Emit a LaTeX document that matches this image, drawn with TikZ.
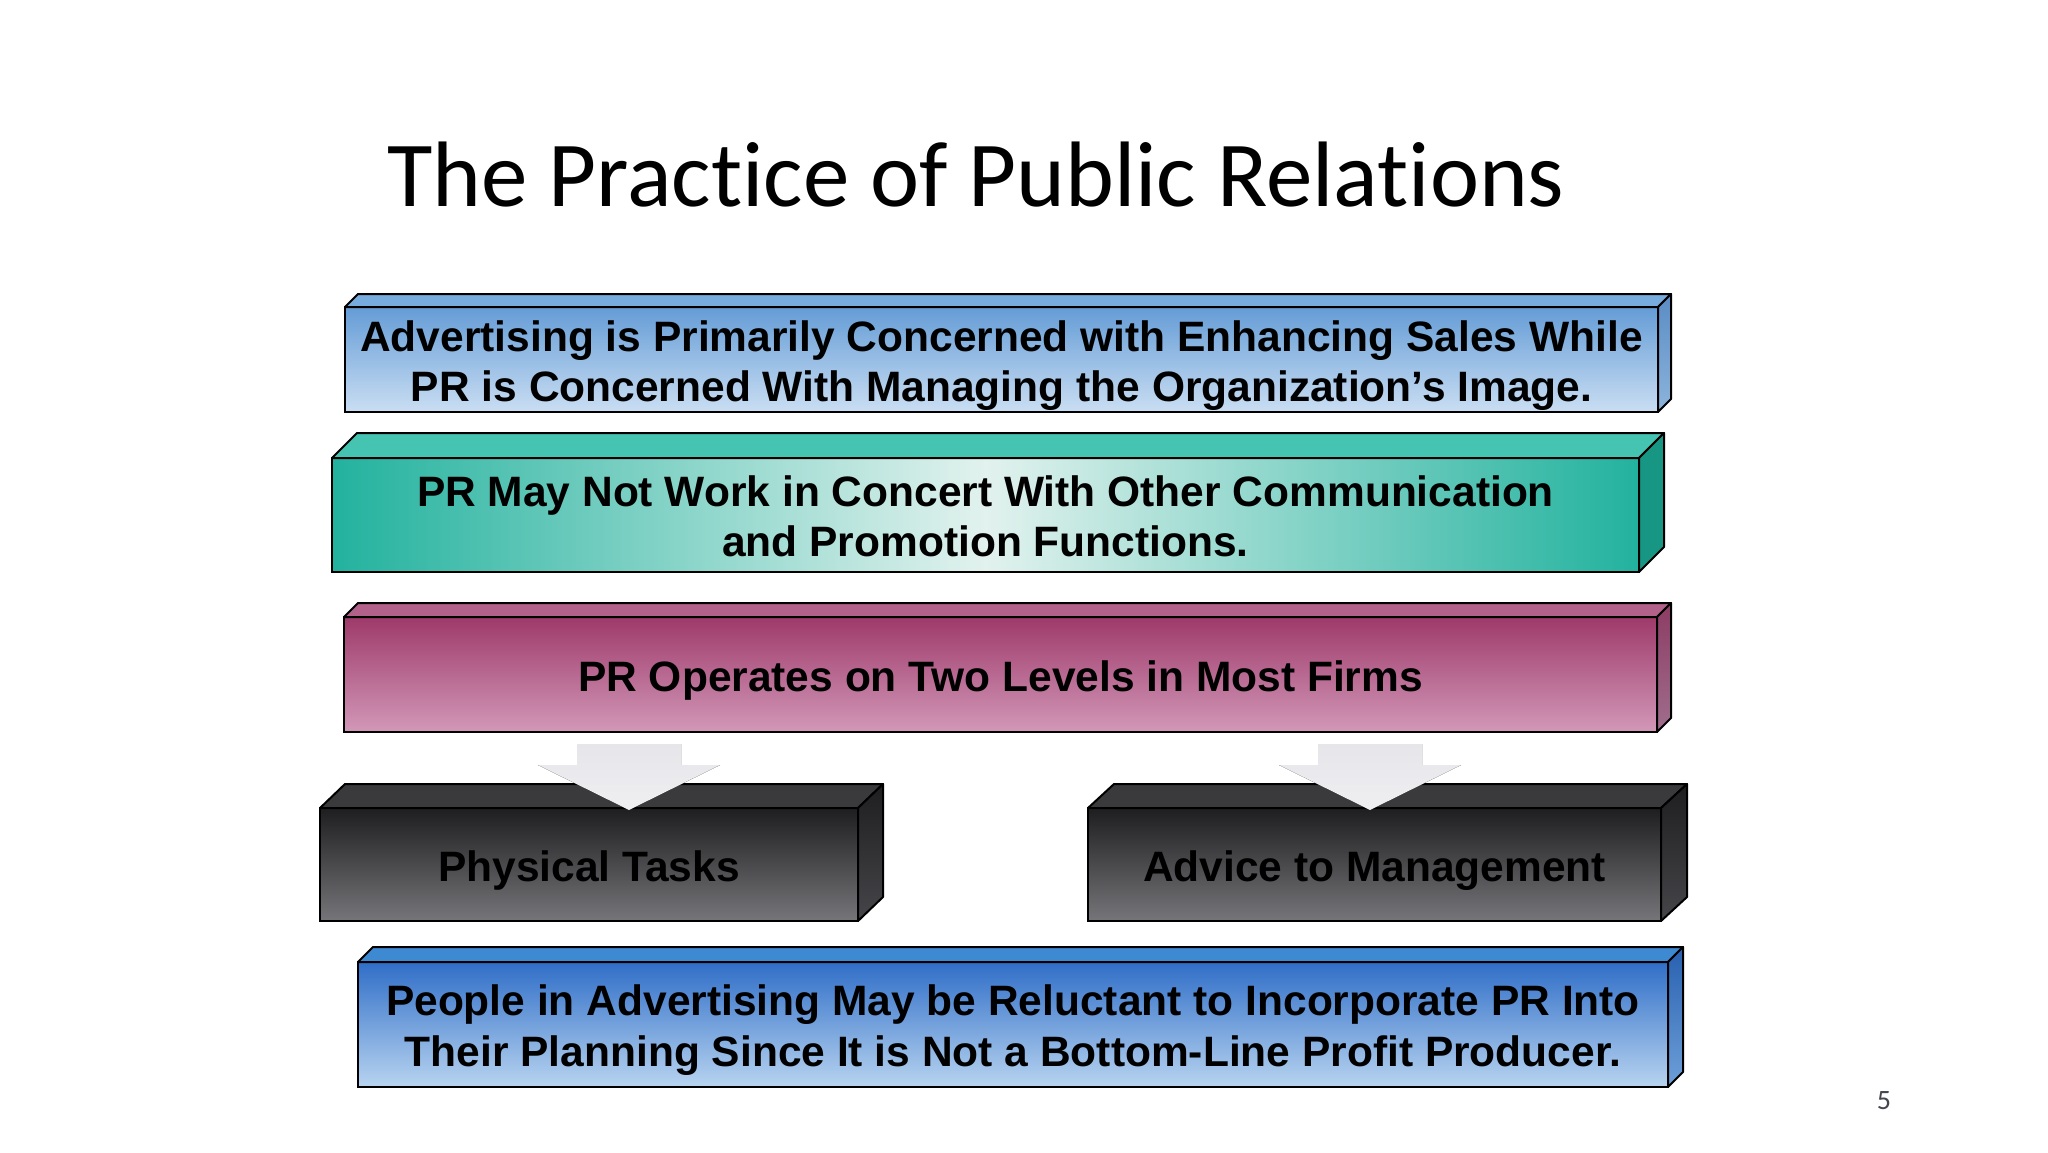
\documentclass[tikz,border=0pt]{standalone}
\usepackage{fontspec}
\setmainfont{Liberation Sans}
\newfontfamily\titlefont[Ligatures={NoCommon}]{Carlito}
\usetikzlibrary{calc,backgrounds}
\definecolor{shadowc}{HTML}{E4E4E7}
\definecolor{arrowc}{HTML}{E6E6EA}
\definecolor{arrowd}{HTML}{EFEFF2}
\begin{document}
\begin{tikzpicture}[x=1pt,y=-1pt,
  facebox/.style={anchor=north west, inner sep=0pt, outer sep=0pt, draw=black, line width=2pt},
  label/.style={inner sep=0pt, align=center, font=\fontsize{42.5}{50}\selectfont\bfseries, text=black, yshift=-6pt},
  face/.style={draw=black, line width=2pt, line join=round},
  shadowbox/.style={fill=shadowc},
  blockarrow/.style={top color=arrowc, bottom color=arrowd}
]
\useasboundingbox[fill=white] (0,0) rectangle (2048,1152);

% title
\node[font=\titlefont\fontsize{93}{110}\selectfont, anchor=base west, inner sep=0pt] (title) at (387,206) {The Practice of Public Relations};

% box 1
\node[facebox, minimum width=1313pt, minimum height=105pt, top color={rgb,255:red,100;green,156;blue,214}, bottom color={rgb,255:red,202;green,222;blue,243}] (b1) at (345,307) {};
\node[label] (b1t) at (b1.center) {Advertising is Primarily Concerned with Enhancing Sales While\\PR is Concerned With Managing the Organization’s Image.};
\draw[face, fill={rgb,255:red,120;green,172;blue,222}] (b1.north west) -- ++(13,-13) -- ($(b1.north east)+(13,-13)$) -- (b1.north east) -- cycle;
\draw[face, top color={rgb,255:red,90;green,140;blue,196}, bottom color={rgb,255:red,140;green,180;blue,220}] (b1.north east) -- ++(13,-13) -- ($(b1.south east)+(13,-13)$) -- (b1.south east) -- cycle;
\begin{pgfonlayer}{background}
\fill[shadowbox] ($(b1.north west)+(10,-3)$) rectangle ($(b1.south east)+(24,12)$);
\end{pgfonlayer}

% box 2
\node[facebox, minimum width=1307pt, minimum height=114pt, left color={rgb,255:red,34;green,178;blue,158}, right color={rgb,255:red,34;green,178;blue,158}, middle color={rgb,255:red,226;green,242;blue,238}] (b2) at (332,458) {};
\node[label, yshift=5pt] (b2t) at (b2.center) {PR May Not Work in Concert With Other Communication\\and Promotion Functions.};
\draw[face, fill={rgb,255:red,70;green,196;blue,178}] (b2.north west) -- ++(25,-25) -- ($(b2.north east)+(25,-25)$) -- (b2.north east) -- cycle;
\draw[face, fill={rgb,255:red,24;green,150;blue,132}] (b2.north east) -- ++(25,-25) -- ($(b2.south east)+(25,-25)$) -- (b2.south east) -- cycle;
\begin{pgfonlayer}{background}
\fill[shadowbox] ($(b2.north west)+(10,-15)$) rectangle ($(b2.south east)+(36,12)$);
\end{pgfonlayer}

% box 3
\node[facebox, minimum width=1313pt, minimum height=115pt, top color={rgb,255:red,158;green,58;blue,106}, bottom color={rgb,255:red,210;green,152;blue,184}] (b3) at (344,617) {};
\node[label] (b3t) at (b3.center) {PR Operates on Two Levels in Most Firms};
\draw[face, fill={rgb,255:red,178;green,98;blue,138}] (b3.north west) -- ++(14,-14) -- ($(b3.north east)+(14,-14)$) -- (b3.north east) -- cycle;
\draw[face, top color={rgb,255:red,140;green,60;blue,100}, bottom color={rgb,255:red,160;green,110;blue,140}] (b3.north east) -- ++(14,-14) -- ($(b3.south east)+(14,-14)$) -- (b3.south east) -- cycle;
\begin{pgfonlayer}{background}
\fill[shadowbox] ($(b3.north west)+(10,-4)$) rectangle ($(b3.south east)+(25,12)$);
\end{pgfonlayer}

% dark box left
\node[facebox, minimum width=538pt, minimum height=113pt, top color={rgb,255:red,30;green,30;blue,32}, bottom color={rgb,255:red,118;green,118;blue,122}] (d1) at (320,808) {};
\node[label] (d1t) at (d1.center) {Physical Tasks};
\draw[face, fill={rgb,255:red,58;green,58;blue,60}] (d1.north west) -- ++(25,-24) -- ($(d1.north east)+(25,-24)$) -- (d1.north east) -- cycle;
\draw[face, top color={rgb,255:red,30;green,30;blue,32}, bottom color={rgb,255:red,70;green,70;blue,74}] (d1.north east) -- ++(25,-24) -- ($(d1.south east)+(25,-24)$) -- (d1.south east) -- cycle;
\begin{pgfonlayer}{background}
\fill[shadowbox] ($(d1.north west)+(10,-14)$) rectangle ($(d1.south east)+(36,12)$);
\end{pgfonlayer}

% dark box right
\node[facebox, minimum width=573pt, minimum height=113pt, top color={rgb,255:red,30;green,30;blue,32}, bottom color={rgb,255:red,118;green,118;blue,122}] (d2) at (1088,808) {};
\node[label] (d2t) at (d2.center) {Advice to Management};
\draw[face, fill={rgb,255:red,58;green,58;blue,60}] (d2.north west) -- ++(26,-24) -- ($(d2.north east)+(26,-24)$) -- (d2.north east) -- cycle;
\draw[face, top color={rgb,255:red,30;green,30;blue,32}, bottom color={rgb,255:red,70;green,70;blue,74}] (d2.north east) -- ++(26,-24) -- ($(d2.south east)+(26,-24)$) -- (d2.south east) -- cycle;
\begin{pgfonlayer}{background}
\fill[shadowbox] ($(d2.north west)+(10,-14)$) rectangle ($(d2.south east)+(37,12)$);
\end{pgfonlayer}

% block arrows from b3 to d1/d2
\coordinate (ta) at (629,810);
\coordinate (tb) at (1370,810);
\fill[blockarrow] (ta) -- ++(-91,-45) -- ++(39,0) -- ++(0,-21) -- ++(104,0) -- ++(0,21) -- ++(39,0) -- cycle;
\fill[blockarrow] (tb) -- ++(-91,-45) -- ++(39,0) -- ++(0,-21) -- ++(104,0) -- ++(0,21) -- ++(39,0) -- cycle;

% box 5
\node[facebox, minimum width=1310pt, minimum height=125pt, top color={rgb,255:red,48;green,110;blue,200}, bottom color={rgb,255:red,184;green,212;blue,240}] (b5) at (358,962) {};
\node[label, font=\fontsize{42.5}{51}\selectfont\bfseries] (b5t) at (b5.center) {People in Advertising May be Reluctant to Incorporate PR Into\\Their Planning Since It is Not a Bottom-Line Profit Producer.};
\draw[face, fill={rgb,255:red,62;green,138;blue,210}] (b5.north west) -- ++(15,-15) -- ($(b5.north east)+(15,-15)$) -- (b5.north east) -- cycle;
\draw[face, top color={rgb,255:red,40;green,96;blue,176}, bottom color={rgb,255:red,110;green,160;blue,216}] (b5.north east) -- ++(15,-15) -- ($(b5.south east)+(15,-15)$) -- (b5.south east) -- cycle;
\begin{pgfonlayer}{background}
\fill[shadowbox] ($(b5.north west)+(10,-5)$) rectangle ($(b5.south east)+(26,12)$);
\end{pgfonlayer}

% page number
\node[font=\titlefont\fontsize{28}{32}\selectfont, text={rgb,255:red,70;green,70;blue,80}, anchor=base, inner sep=0pt] (pg) at (1884,1109) {5};
\end{tikzpicture}
\end{document}
